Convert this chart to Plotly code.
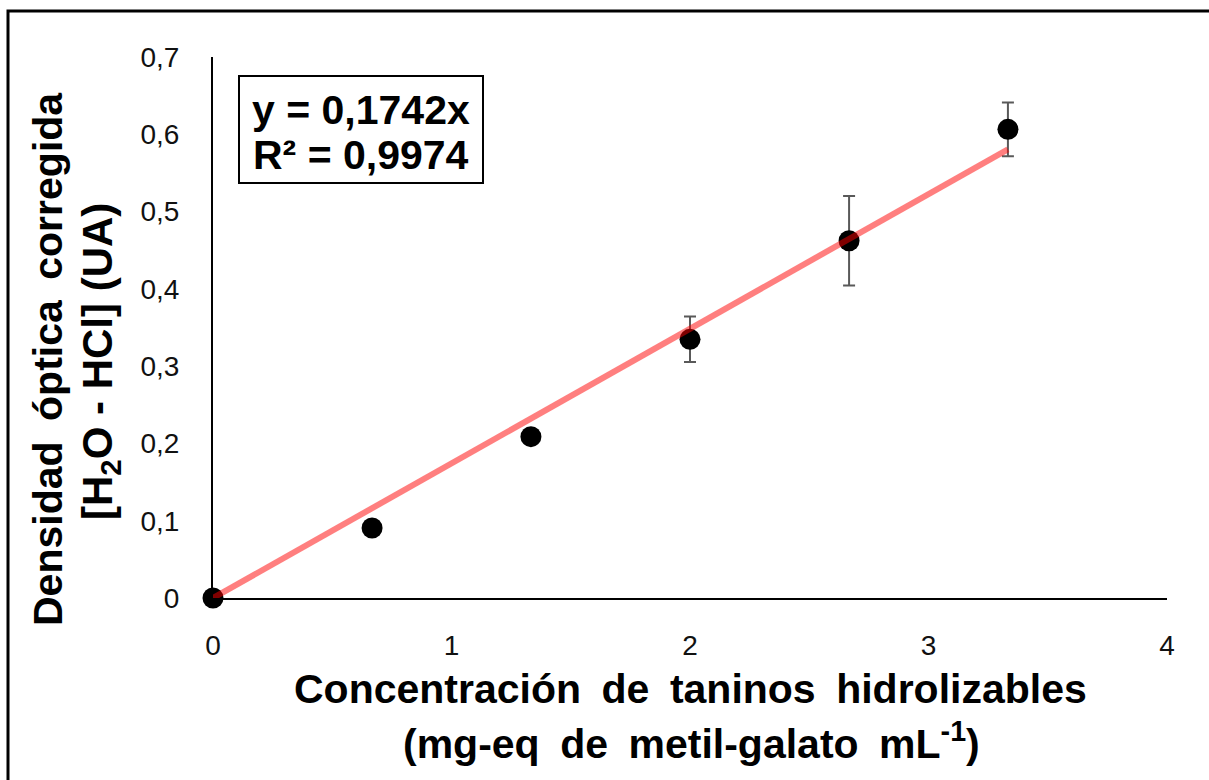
import plotly.graph_objects as go

# Calibration data: hydrolysable tannin concentration vs corrected optical density
conc = [0, 0.667, 1.333, 2.0, 2.667, 3.333]
od = [0.0, 0.0906, 0.2087, 0.3347, 0.4623, 0.6064]
od_err = [0.0, 0.0, 0.0, 0.0295, 0.0578, 0.0347]

slope = 0.1742
r2 = 0.9974
fit_x = [0, 3.333]
fit_y = [slope * v for v in fit_x]

x_ticks = [0, 1, 2, 3, 4]
y_ticks = [0, 0.1, 0.2, 0.3, 0.4, 0.5, 0.6, 0.7]
y_tick_text = ["0", "0,1", "0,2", "0,3", "0,4", "0,5", "0,6", "0,7"]

W, H = 1209, 780
L, R, T, B = 213, 42, 57, 182
PW, PH = W - L - R, H - T - B


def px(p):
    return (p - L) / PW


def py(p):
    return (H - B - p) / PH


FONT = "Liberation Sans, Arial, sans-serif"
SP = "\u2002"  # en space: slightly wider word gap in the titles

fig = go.Figure()

fig.add_trace(go.Scatter(
    x=conc, y=od, mode="markers",
    marker=dict(color="black", size=21),
    error_y=dict(type="data", array=od_err, visible=True,
                 color="#595959", thickness=2, width=6),
    cliponaxis=False, showlegend=False,
))

fig.add_trace(go.Scatter(
    x=fit_x, y=fit_y, mode="lines",
    line=dict(color="rgba(255,0,0,0.5)", width=6),
    cliponaxis=False, showlegend=False,
))

fig.update_xaxes(
    range=[0, 4], tickvals=x_ticks, showgrid=False, zeroline=False,
    showline=True, linecolor="black", linewidth=2,
    ticks="", ticklabelstandoff=21,
    tickfont=dict(family=FONT, size=28, color="#111111"),
)
fig.update_yaxes(
    range=[0, 0.7], tickvals=y_ticks, ticktext=y_tick_text,
    showgrid=False, zeroline=False,
    showline=True, linecolor="black", linewidth=2,
    ticks="", ticklabelstandoff=26,
    tickfont=dict(family=FONT, size=28, color="#111111"),
)

title_font = dict(family=FONT, size=41, color="black")
eq_font = dict(family=FONT, size=41, color="black")

annotations = [
    dict(text="<b>" + SP.join(["Concentración", "de", "taninos", "hidrolizables"]) + "</b>",
         x=px(690), y=py(689), xanchor="center", yanchor="middle"),
    dict(text="<b>" + SP.join(["(mg-eq", "de", "metil-galato", "mL<sup>-1</sup>)"]) + "</b>",
         x=px(691), y=py(741), xanchor="center", yanchor="middle"),
    dict(text="<b>" + SP.join(["Densidad", "óptica", "corregida"]) + "</b>", textangle=-90,
         x=px(48), y=py(359), xanchor="center", yanchor="middle"),
    dict(text="<b>[H<sub>2</sub>O - HCl] (UA)</b>", textangle=-90,
         x=px(100), y=py(362), xanchor="center", yanchor="middle",
         font=dict(family=FONT, size=42, color="black")),
    dict(text=f"<b>y = {slope:.4f}x</b>".replace(".", ","),
         x=px(361), y=py(110), xanchor="center", yanchor="middle", font=eq_font),
    dict(text=f"<b>R² = {r2:.4f}</b>".replace(".", ","),
         x=px(361), y=py(155), xanchor="center", yanchor="middle", font=eq_font),
]
for a in annotations:
    a.setdefault("font", title_font)
    a.update(xref="paper", yref="paper", showarrow=False)

shapes = [
    # equation box
    dict(type="rect", xref="paper", yref="paper",
         x0=px(239), x1=px(483), y0=py(183), y1=py(76),
         line=dict(color="black", width=2), fillcolor="rgba(0,0,0,0)"),
    # chart frame
    dict(type="rect", xref="paper", yref="paper",
         x0=px(8), x1=px(1230), y0=py(800), y1=py(11),
         line=dict(color="black", width=3), fillcolor="rgba(0,0,0,0)"),
]

fig.update_layout(
    width=W, height=H, autosize=False,
    margin=dict(l=L, r=R, t=T, b=B),
    paper_bgcolor="white", plot_bgcolor="white",
    annotations=annotations, shapes=shapes,
    showlegend=False,
)

fig.write_html("out.html")
